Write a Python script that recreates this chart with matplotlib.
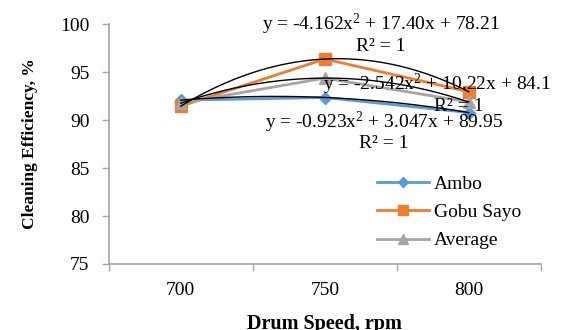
import numpy as np
import matplotlib
matplotlib.use("Agg")
import matplotlib.pyplot as plt

# data
speeds = ["700", "750", "800"]
ambo = [92.07, 92.35, 90.78]
gobu_sayo = [91.45, 96.36, 92.95]
average = [91.76, 94.37, 91.88]
y_ticks = [75, 80, 85, 90, 95, 100]

eq_gobu = "y = -4.162x$^2$ + 17.40x + 78.21"
eq_avg = "y = -2.542x$^2$ + 10.22x + 84.1"
eq_ambo = "y = -0.923x$^2$ + 3.047x + 89.95"

BLUE = "#5B9BD5"
ORANGE = "#ED7D31"
GRAY = "#A5A5A5"
AXIS = "#A6A6A6"

plt.rcParams["font.family"] = ["Liberation Serif", "DejaVu Serif"]
plt.rcParams["mathtext.fontset"] = "custom"
plt.rcParams["mathtext.rm"] = "Liberation Serif"
plt.rcParams["mathtext.it"] = "Liberation Serif"

fig = plt.figure(figsize=(5.79, 3.30), dpi=100)
ax = fig.add_axes([0.188, 0.2, 0.746, 0.727])

x = np.arange(1, len(speeds) + 1)
ax.plot(x, ambo, color=BLUE, lw=2, marker="D", ms=6, label="Ambo", zorder=3)
ax.plot(x, gobu_sayo, color=ORANGE, lw=2, marker="s", ms=9, label="Gobu Sayo", zorder=3)
ax.plot(x, average, color=GRAY, lw=2, marker="^", ms=8, label="Average", zorder=3)

# polynomial trendlines
xs = np.linspace(1, 3, 100)
for series in (ambo, gobu_sayo, average):
    coef = np.polyfit(x, series, 2)
    ax.plot(xs, np.polyval(coef, xs), color="black", lw=1, zorder=4)

ax.set_xlim(0.5, 3.5)
ax.set_ylim(75, 100)
ax.set_yticks(y_ticks)
ax.set_xticks([0.5, 1.5, 2.5, 3.5])
ax.set_xticklabels([])
ax.set_xticks(x, minor=True)
ax.set_xticklabels(speeds, minor=True)
ax.tick_params(axis="x", which="major", length=5, color=AXIS, width=1)
ax.tick_params(axis="x", which="minor", length=0, pad=13, labelsize=14)
ax.tick_params(axis="y", length=5, color=AXIS, width=1, labelsize=14, pad=9)

for s in ("top", "right"):
    ax.spines[s].set_visible(False)
for s in ("left", "bottom"):
    ax.spines[s].set_color(AXIS)
    ax.spines[s].set_linewidth(1.2)

ax.set_ylabel("Cleaning Efficiency, %", fontsize=12.5, fontweight="bold", labelpad=16)
ax.set_xlabel("Drum Speed, rpm", fontsize=14.5, fontweight="bold", labelpad=11)

fs = 14
ax.text(2.39, 100.0, eq_gobu, ha="center", va="center", fontsize=fs)
ax.text(2.39, 97.7, "R² = 1", ha="center", va="center", fontsize=fs)
ax.text(1.99, 93.7, eq_avg, ha="left", va="center", fontsize=fs)
ax.text(2.93, 91.4, "R² = 1", ha="center", va="center", fontsize=fs)
ax.text(2.41, 89.75, eq_ambo, ha="center", va="center", fontsize=fs)
ax.text(2.41, 87.6, "R² = 1", ha="center", va="center", fontsize=fs)

ax.legend(loc="upper left", bbox_to_anchor=(0.62, 0.37), frameon=False,
          fontsize=14, handlelength=2.7, handletextpad=0.25, labelspacing=0.55,
          borderpad=0, borderaxespad=0, markerscale=0.85)

fig.savefig("out.png", dpi=100)
